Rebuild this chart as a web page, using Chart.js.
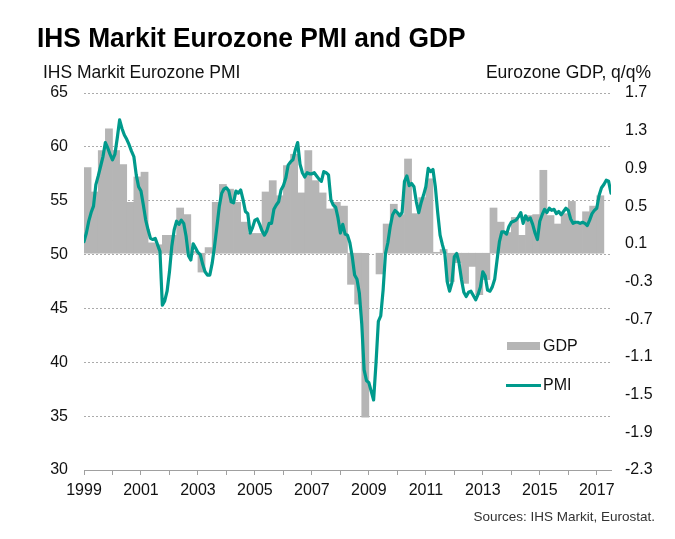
<!DOCTYPE html>
<html>
<head>
<meta charset="utf-8">
<script src="https://cdn.jsdelivr.net/npm/chart.js@4/dist/chart.umd.min.js"></script>
<style>
  html, body { margin: 0; padding: 0; background: #fff; }
  #wrap { position: relative; width: 675px; height: 539px; overflow: hidden; font-family: "Liberation Sans", Arial, sans-serif; }
  #c { position: absolute; left: 0; top: 0; }
  .txt { position: absolute; white-space: nowrap; color: #000; }
  #title { left: 37px; top: 24px; font-size: 28px; line-height: 28px; font-weight: bold; transform: scaleX(0.94); transform-origin: left top; }
  #ylab { left: 43px; top: 62px; font-size: 17.5px; line-height: 20px; color: #111; }
  #y2lab { right: 24px; top: 62px; font-size: 17.5px; line-height: 20px; color: #111; }
  #src { right: 20px; top: 509px; font-size: 13.5px; line-height: 16px; color: #333; }
  .legsw { position: absolute; }
  .legtx { position: absolute; font-size: 16px; line-height: 18px; color: #111; }
</style>
</head>
<body>
<div id="wrap">
  <canvas id="c" width="675" height="539"></canvas>
  <div class="txt" id="title">IHS Markit Eurozone PMI and GDP</div>
  <div class="txt" id="ylab">IHS Markit Eurozone PMI</div>
  <div class="txt" id="y2lab">Eurozone GDP, q/q%</div>
  <div class="txt" id="src">Sources: IHS Markit, Eurostat.</div>
  <div class="legsw" style="left:507px;top:342px;width:33px;height:8px;background:#B5B5B5"></div>
  <div class="legtx" style="left:543px;top:337px">GDP</div>
  <div class="legsw" style="left:506px;top:384px;width:35px;height:3px;background:#009A8C"></div>
  <div class="legtx" style="left:543px;top:376px">PMI</div>
</div>
<script>
// ---- data ----
const pmiStartYear = 1999; // monthly, from Jan 1999
const pmi = [
  51.2, 52.0, 53.1, 53.9, 54.5, 56.5, 57.3, 58.2, 59.1, 60.4, 59.9, 59.3,
  58.8, 59.3, 60.8, 62.5, 61.7, 61.1, 60.7, 60.2, 59.6, 59.1, 57.4, 56.3,
  55.9, 54.6, 53.2, 52.3, 51.5, 51.4, 51.5, 50.9, 50.3, 45.3, 45.7, 46.6,
  48.4, 50.8, 52.3, 53.1, 52.8, 53.2, 52.9, 51.7, 49.9, 49.5, 51.0, 50.6,
  50.2, 50.0, 49.1, 48.4, 48.1, 48.1, 49.2, 50.8, 52.6, 54.5, 55.7, 56.1,
  56.2, 55.9, 54.9, 54.8, 55.9, 55.7, 56.0, 55.1, 54.0, 53.8, 52.0, 52.5,
  53.2, 53.3, 52.8, 52.2, 51.8, 52.2, 52.9, 52.9, 54.2, 54.6, 54.9, 56.0,
  56.4, 57.1, 58.3, 58.6, 58.8, 59.7, 60.4, 58.4, 57.6, 57.2, 57.6, 57.5,
  57.5, 57.6, 57.3, 57.0, 56.8, 57.7, 57.6, 57.4, 55.1, 54.6, 54.4, 53.4,
  52.0, 52.8, 51.9, 51.8, 51.1, 49.8, 48.1, 47.7, 46.4, 43.6, 39.3, 38.3,
  38.1, 37.3, 36.5, 39.9, 43.8, 44.3, 46.7, 50.1, 51.1, 52.6, 53.7, 54.1,
  53.9, 53.6, 53.9, 56.8, 57.3, 56.4, 56.6, 56.3, 54.9, 53.9, 54.8, 55.5,
  56.3, 58.0, 57.7, 57.9, 56.3, 53.9, 51.8, 50.9, 50.1, 47.5, 46.6, 47.4,
  49.8, 50.1, 49.2, 47.7, 46.5, 46.1, 46.5, 46.6, 46.2, 45.8, 46.3, 47.0,
  48.4, 48.0, 46.7, 46.6, 47.0, 47.7, 49.5, 51.2, 52.1, 52.1, 51.9, 52.6,
  53.0, 53.1, 53.2, 53.5, 53.9, 52.9, 53.6, 53.2, 53.4, 52.8, 52.0, 51.4,
  53.1, 53.7, 54.2, 53.9, 54.3, 54.1, 54.2, 53.8, 54.0, 53.7, 54.0, 54.3,
  54.1, 53.3, 52.9, 53.0, 53.0, 52.9, 53.0, 52.9, 52.7, 53.2, 53.8, 54.1,
  54.3, 55.5, 56.2, 56.5, 56.9, 56.8, 55.7
];
const gdpStartYear = 1999; // quarterly, from Q1 1999
const gdp = [
  0.91, 0.65, 1.09, 1.32,
  1.09, 0.94, 0.54, 0.81,
  0.86, 0.11, 0.09, 0.19,
  0.19, 0.48, 0.41, 0.02,
  -0.20, 0.06, 0.54, 0.73,
  0.68, 0.54, 0.33, 0.21,
  0.21, 0.65, 0.77, 0.61,
  0.93, 1.05, 0.64, 1.09,
  0.77, 0.64, 0.47, 0.54,
  0.50, -0.33, -0.54, -1.74,
  null, -0.22, 0.31, 0.52,
  0.41, 1.00, 0.42, 0.59,
  0.79, 0.01, 0.04, -0.30,
  -0.10, -0.32, -0.14, -0.44,
  -0.28, 0.48, 0.33, 0.22,
  0.38, 0.19, 0.40, 0.41,
  0.88, 0.40, 0.31, 0.42,
  0.55, 0.33, 0.44, 0.50,
  0.61
];
const xLabelYears = [1999, 2001, 2003, 2005, 2007, 2009, 2011, 2013, 2015, 2017];
const pmiTicks = [30, 35, 40, 45, 50, 55, 60, 65];
const gdpTicks = [-2.3, -1.9, -1.5, -1.1, -0.7, -0.3, 0.1, 0.5, 0.9, 1.3, 1.7];

// ---- chart ----
const pmiPoints = pmi.map((v, i) => ({ x: pmiStartYear + i / 12, y: v }));
const gdpPoints = gdp.map((v, i) => ({ x: gdpStartYear + i / 4 + 0.125, y: v }));

const tickFont = { family: '"Liberation Sans", Arial, sans-serif', size: 16 };

new Chart(document.getElementById('c'), {
  type: 'bar',
  data: {
    datasets: [
      {
        type: 'line', label: 'PMI', data: pmiPoints, yAxisID: 'y',
        borderColor: '#009A8C', borderWidth: 3.2, pointRadius: 0, tension: 0,
        borderJoinStyle: 'round', borderCapStyle: 'round', order: 0
      },
      {
        type: 'bar', label: 'GDP', data: gdpPoints, yAxisID: 'y2',
        backgroundColor: '#B5B5B5', borderWidth: 0,
        barPercentage: 1, categoryPercentage: 1, order: 1
      }
    ]
  },
  options: {
    responsive: false,
    animation: false,
    events: [],
    layout: { padding: { top: 93, left: 0, right: 0, bottom: 0 } },
    plugins: { legend: { display: false }, tooltip: { enabled: false } },
    scales: {
      x: {
        type: 'linear', min: 1999, max: 2017.5, offset: false,
        afterFit: (s) => { s.height = 69; },
        grid: { display: true, drawOnChartArea: false, drawTicks: true, tickLength: 5, color: '#A0A0A0', offset: false },
        border: { display: true, color: '#A0A0A0', width: 1 },
        ticks: {
          stepSize: 1, includeBounds: false, autoSkip: false, maxRotation: 0,
          padding: 6, color: '#111', font: tickFont,
          callback: (v) => xLabelYears.includes(v) ? String(v) : ''
        }
      },
      y: {
        position: 'left', min: pmiTicks[0], max: pmiTicks[pmiTicks.length - 1],
        afterFit: (s) => { s.width = 84; },
        afterBuildTicks: (s) => { s.ticks = pmiTicks.map(v => ({ value: v })); },
        grid: { color: '#ABABAB', lineWidth: 1, drawTicks: false },
        border: { display: false, dash: [2, 2] },
        ticks: { padding: 16, color: '#111', font: tickFont }
      },
      y2: {
        position: 'right', min: gdpTicks[0], max: gdpTicks[gdpTicks.length - 1],
        afterFit: (s) => { s.width = 64; },
        afterBuildTicks: (s) => { s.ticks = gdpTicks.map(v => ({ value: v })); },
        grid: { display: false, drawTicks: false },
        border: { display: false },
        ticks: { padding: 14, color: '#111', font: tickFont, callback: (v) => Number(v).toFixed(1) }
      }
    }
  }
});
</script>
</body>
</html>
